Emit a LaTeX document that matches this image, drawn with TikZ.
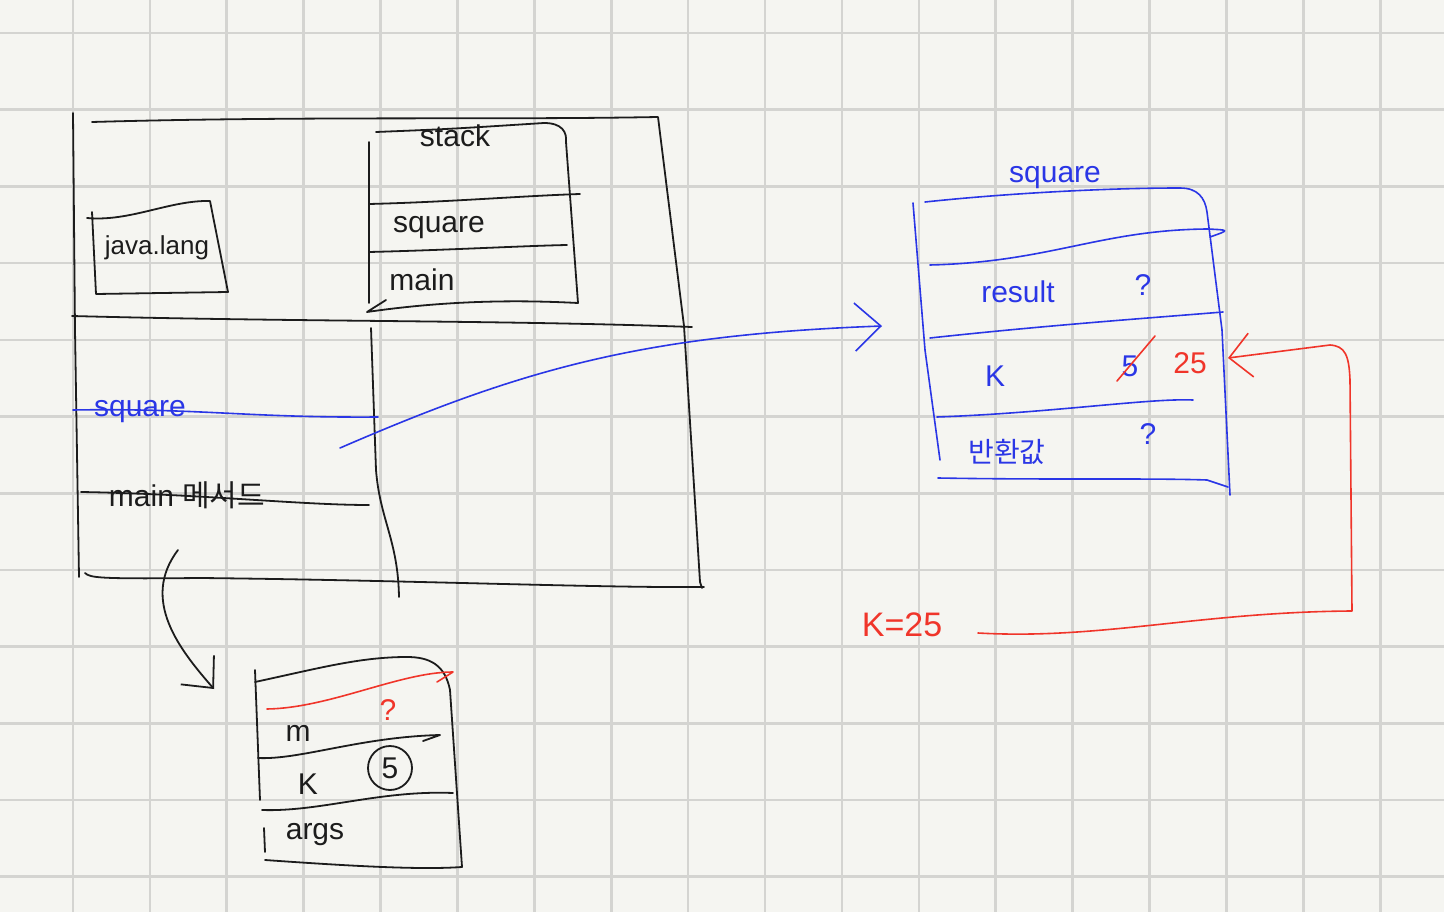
\documentclass[tikz,border=0pt]{standalone}
\usepackage{fontspec}
\setmainfont{Liberation Sans}
\newfontfamily\kr{Noto Sans CJK KR}
\usetikzlibrary{arrows.meta}

\definecolor{paper}{HTML}{F5F5F1}
\definecolor{gridgray}{HTML}{D4D4D1}
\definecolor{inkblack}{HTML}{1C1C1C}
\definecolor{inkblue}{HTML}{2A36E6}
\definecolor{inkred}{HTML}{F0352A}

\begin{document}
\begin{tikzpicture}[x=1pt,y=-1pt]
	\tikzset{
		gridline/.style={draw=gridgray, line width=2.6pt},
		pen/.style={draw=inkblack, line width=1.8pt, line cap=round, line join=round},
		bpen/.style={pen, draw=inkblue, line width=1.6pt},
		rpen/.style={pen, draw=inkred, line width=1.6pt},
		hw/.style={inner sep=0pt, text=inkblack, font=\fontsize{30}{36}\selectfont},
		bhw/.style={hw, text=inkblue},
		rhw/.style={hw, text=inkred}
	}
	\useasboundingbox (0,0) rectangle (1444,912);
	% paper
	\fill[paper] (0,0) rectangle (1444,912);
	\foreach \i in {0,...,18}
		\draw[gridline] ({-4+76.9*\i},0) -- ({-4+76.9*\i},912);
	\foreach \j in {0,...,11}
		\draw[gridline] (0,{33+76.7*\j}) -- (1444,{33+76.7*\j});

	% memory areas
	\draw[pen] (73,113) -- (75,330) -- (79,577);
	\draw[pen] (92,122) .. controls (300,116) and (500,120) .. (658,117) -- (684,326) -- (700,582) -- (702,588);
	\draw[pen] (72,316) .. controls (300,322) and (500,320) .. (692,327);
	\draw[pen] (371,328) -- (376,470) .. controls (380,520) and (398,540) .. (399,597);
	\draw[pen] (85,573) .. controls (90,578) and (100,579) .. (200,578) .. controls (400,580) and (600,588) .. (704,587);

	% java.lang
	\draw[pen] (87,218) .. controls (130,222) and (170,200) .. (210,201) -- (228,292) -- (96,294) -- (92,212);
	\node[hw, font=\fontsize{26}{32}\selectfont] (jlang) at (157,248) {java.lang};

	% stack
	\draw[pen] (376,132) .. controls (450,129) .. (544,123) .. controls (562,123) and (567,132) .. (566,142) -- (578,303);
	\draw[pen] (369,142) -- (369,303);
	\draw[pen] (386,300) -- (367,312) .. controls (450,300) and (520,300) .. (578,303);
	\draw[pen] (369,204) .. controls (450,202) and (520,196) .. (580,194);
	\draw[pen] (369,252) .. controls (450,250) and (520,246) .. (567,245);
	\node[hw] (stacklbl) at (455,136) {stack};
	\node[hw] (stksq) at (439,228) {square};
	\node[hw] (stkmain) at (422,280) {main};

	% method entries
	\node[bhw] (msq) at (140,412) {square};
	\draw[bpen] (73,410) .. controls (200,408) and (250,418) .. (378,417);
	\node[hw] (mmain) at (187,495) {main \kr 메서드};
	\draw[pen] (81,492) .. controls (200,494) and (300,505) .. (369,505);

	% square frame
	\node[bhw] (sqtitle) at (1055,178) {square};
	\draw[bpen] (925,202) .. controls (1000,194) and (1100,188) .. (1180,188) .. controls (1198,188) and (1205,198) .. (1207,212) -- (1222,330) -- (1230,495);
	\draw[bpen] (913,203) -- (925,350) -- (940,460);
	\draw[bpen] (930,265) .. controls (1050,262) and (1100,230) .. (1207,229) .. controls (1230,230) .. (1210,237);
	\draw[bpen] (930,338) .. controls (1050,325) and (1150,318) .. (1223,312);
	\draw[bpen] (937,417) .. controls (1050,413) and (1150,398) .. (1193,400);
	\draw[bpen] (938,478) .. controls (1050,480) and (1150,478) .. (1207,480) -- (1228,487);
	\node[bhw] (sqres) at (1018,292) {result};
	\node[bhw] (sqresq) at (1143,285) {?};
	\node[bhw] (sqk) at (995,376) {K};
	\node[bhw] (sqk5) at (1130,366) {5};
	\node[rhw] (sqk25) at (1190,363) {25};
	\draw[rpen] (1117,381) -- (1155,336);
	\node[bhw, font=\kr\fontsize{28}{34}\selectfont] (sqret) at (1007,452) {반환값};
	\node[bhw] (sqretq) at (1148,434) {?};

	% main frame
	\draw[pen] (255,682) .. controls (320,668) and (360,657) .. (407,657) .. controls (430,657) and (445,665) .. (450,690) -- (462,867);
	\draw[pen] (255,670) -- (260,800);
	\draw[pen] (264,828) -- (265,852);
	\draw[pen] (265,860) .. controls (350,866) and (420,870) .. (462,867);
	\draw[rpen] (267,709) .. controls (330,708) and (400,672) .. (453,672) -- (437,682);
	\draw[pen] (258,758) .. controls (300,760) and (360,737) .. (440,735) -- (423,741);
	\draw[pen] (262,810) .. controls (320,812) and (380,790) .. (453,793);
	\node[hw] (mfm) at (298,733) {m};
	\node[rhw] (mfmq) at (388,710) {?};
	\node[hw] (mfk) at (308,784) {K};
	\node[hw, draw=inkblack, line width=1.8pt, circle, minimum size=44pt] (mfk5) at (390,768) {5};
	\node[hw] (mfargs) at (315,835) {args};

	% references
	\node[rhw, font=\fontsize{34}{40}\selectfont] (k25) at (902,625) {K=25};
	\coordinate (k25out) at (978,633);
	\coordinate (sqkin) at (1228,358);
	\draw[rpen, -{Straight Barb[length=22pt,width=44pt]}] (k25out) .. controls (1100,640) and (1200,612) .. (1352,611) -- (1350,380) .. controls (1349,355) and (1345,346) .. (1330,345) -- (sqkin);
	\coordinate (sqref) at (340,448);
	\coordinate (sqin) at (882,326);
	\draw[bpen, -{Straight Barb[length=26pt,width=48pt]}] (sqref) .. controls (520,370) and (640,335) .. (sqin);
	\coordinate (mainref) at (178,550);
	\coordinate (mfin) at (214,689);
	\draw[pen, -{Straight Barb[length=24pt,width=44pt]}] (mainref) .. controls (140,600) and (180,650) .. (mfin);
\end{tikzpicture}
\end{document}
